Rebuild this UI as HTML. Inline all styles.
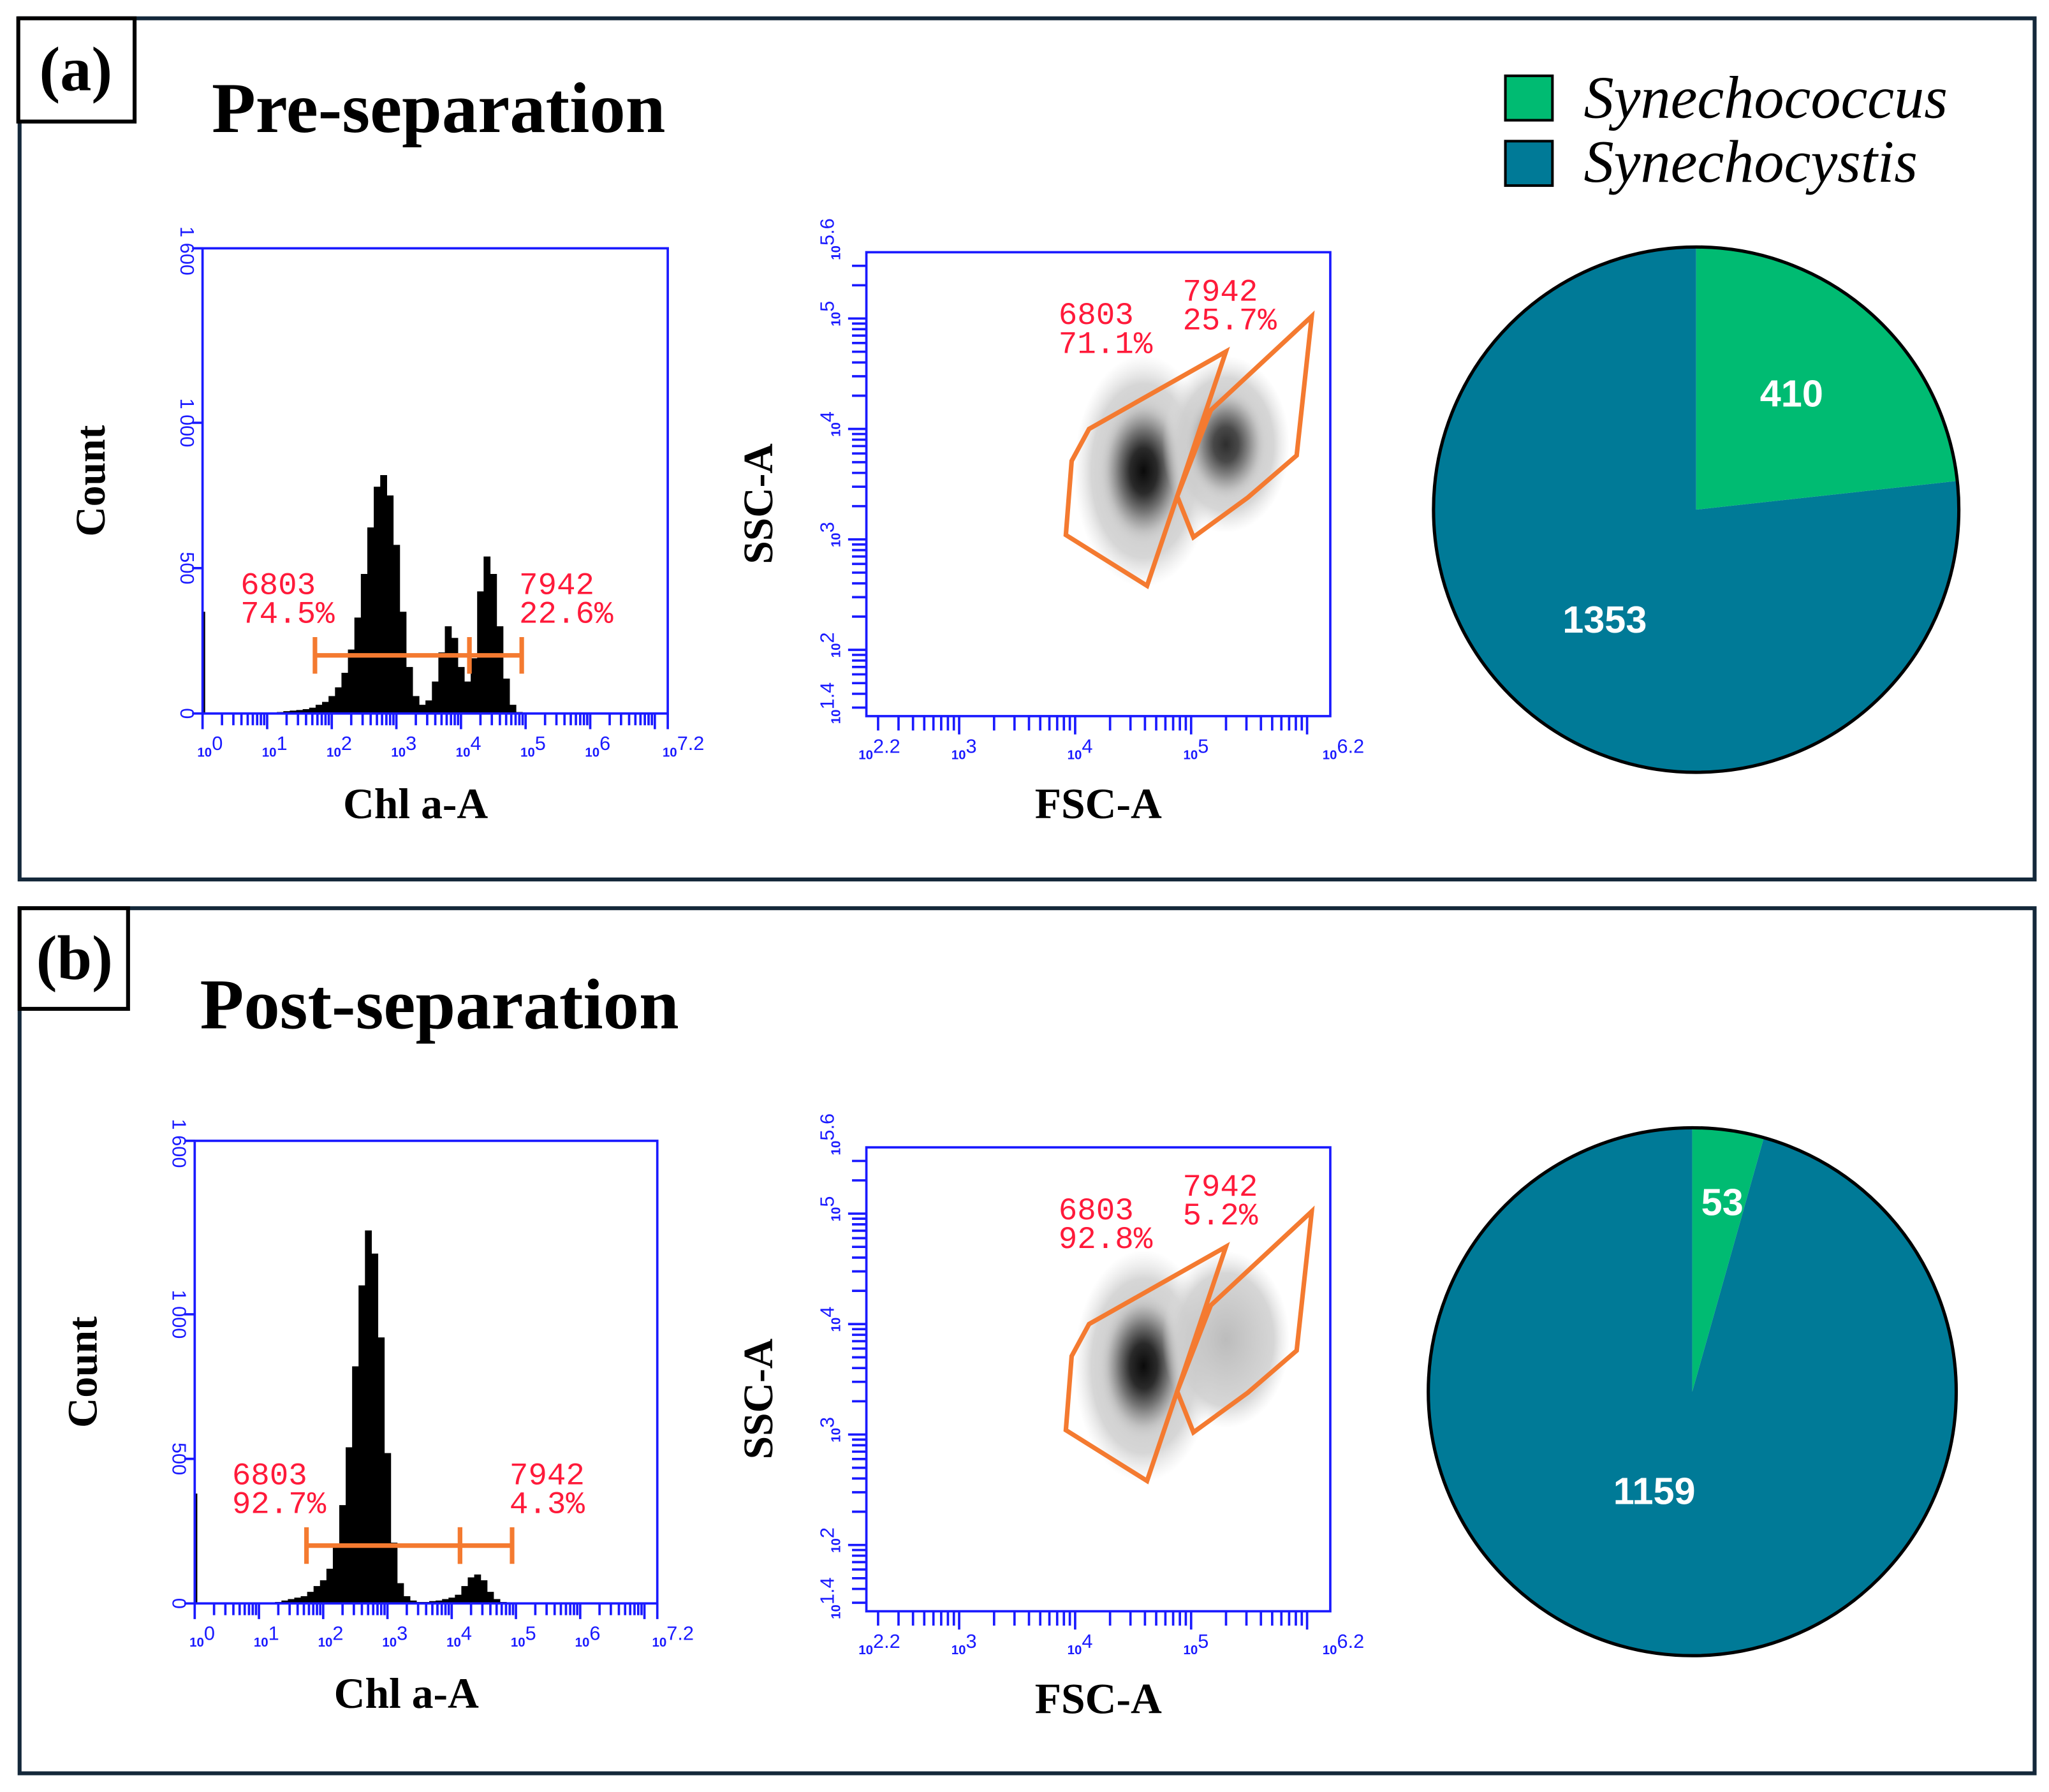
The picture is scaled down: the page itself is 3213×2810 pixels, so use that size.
<!DOCTYPE html>
<html><head><meta charset="utf-8"><style>
html,body{margin:0;padding:0;background:#fff;}
svg{display:block;}
</style></head><body>
<svg id="fig" xmlns="http://www.w3.org/2000/svg" width="3213" height="2810" viewBox="0 0 1568 1371.3">
<defs>
<radialGradient id="gDark"><stop offset="0" stop-color="#0a0a0a"/><stop offset="0.3" stop-color="#2a2a2a"/><stop offset="0.55" stop-color="#777"/><stop offset="0.8" stop-color="#bdbdbd" stop-opacity="0.8"/><stop offset="1" stop-color="#d8d8d8" stop-opacity="0"/></radialGradient>
<radialGradient id="gLight"><stop offset="0" stop-color="#bcbcbc"/><stop offset="0.75" stop-color="#cfcfcf" stop-opacity="0.85"/><stop offset="1" stop-color="#e0e0e0" stop-opacity="0"/></radialGradient>
</defs>
<rect x="15" y="14" width="1542" height="659" fill="none" stroke="#14283a" stroke-width="3"/>
<rect x="15" y="695" width="1542" height="662" fill="none" stroke="#14283a" stroke-width="3"/>
<rect x="14" y="14" width="89" height="79" fill="#fff" stroke="#000" stroke-width="3"/>
<text x="58" y="69" text-anchor="middle" font-family="Liberation Serif, serif" font-weight="bold" font-size="48">(a)</text>
<rect x="15" y="695" width="83" height="77" fill="#fff" stroke="#000" stroke-width="3"/>
<text x="57" y="749" text-anchor="middle" font-family="Liberation Serif, serif" font-weight="bold" font-size="48">(b)</text>
<text x="162" y="101" font-family="Liberation Serif, serif" font-weight="bold" font-size="55">Pre-separation</text>
<text x="153" y="787" font-family="Liberation Serif, serif" font-weight="bold" font-size="55">Post-separation</text>
<rect x="1152" y="58" width="36" height="34" fill="#00bb72" stroke="#000" stroke-width="2"/>
<rect x="1152" y="108" width="36" height="34" fill="#007a97" stroke="#000" stroke-width="2"/>
<text x="1212" y="90" font-family="Liberation Serif, serif" font-style="italic" font-size="46">Synechococcus</text>
<text x="1212" y="139" font-family="Liberation Serif, serif" font-style="italic" font-size="46">Synechocystis</text>
</svg>
<script>
// ---------- DATA ----------
const histBins = [1.2,1.3,1.4,1.5,1.6,1.7,1.8,1.9,2.0,2.1,2.2,2.3,2.4,2.5,2.6,2.7,2.8,2.9,3.0,3.1,3.2,3.3,3.4,3.5,3.6,3.7,3.8,3.9,4.0,4.1,4.2,4.3,4.4,4.5,4.6,4.7,4.8,4.9];
const preCounts = [5,8,10,12,15,20,30,40,60,90,140,220,330,480,640,780,820,750,580,350,160,60,30,45,110,210,300,260,160,110,190,420,540,480,300,120,30,5];
const postCounts = [3,5,10,15,20,25,40,60,80,120,200,340,540,820,1100,1290,1210,920,520,210,70,25,10,5,5,8,10,15,20,30,60,90,100,80,40,15,5,2];
const preSpike = 350;
const postSpike = 380;
const histXTicks = [0,1,2,3,4,5,6,7.2];
const histYTicks = [0,500,1000,1600];
const gateLabels = ["6803","7942"];
const preHistPct = ["74.5%","22.6%"];
const postHistPct = ["92.7%","4.3%"];
const gateRanges = [[1.74,4.13],[4.13,4.94]];
const gateLevel = 200;
const scatXTicks = [2.2,3,4,5,6.2];
const scatYTicks = [1.4,2,3,4,5,5.6];
const gate6803X = [4.12,5.30,4.62,3.92,3.97];
const gate6803Y = [4.00,4.70,2.58,3.04,3.71];
const gate7942X = [6.04,5.91,5.49,5.02,4.88,5.17];
const gate7942Y = [5.02,3.76,3.38,3.02,3.39,4.17];
const preScatPct = ["71.1%","25.7%"];
const postScatPct = ["92.8%","5.2%"];
const clusterX = [4.59,5.30];
const clusterY = [3.62,3.86];
const clusterSX = [0.6,0.55];
const clusterSY = [1.05,0.8];
const preIntensity = [1,0.8];
const postIntensity = [1,0];
const pieLabels = ["Synechococcus","Synechocystis"];
const prePie = [410,1353];
const postPie = [53,1159];

// ---------- HELPERS ----------
const NS="http://www.w3.org/2000/svg";
const svg=document.getElementById('fig');
function mk(tag,attrs,parent){const e=document.createElementNS(NS,tag);for(const k in attrs)e.setAttribute(k,attrs[k]);(parent||svg).appendChild(e);return e;}
const BLUE="#1a1aff", ORANGE="#f47a30", RED="#ff1a3a";
const LBL="Liberation Mono, monospace";

function histogram(px,py,w,h,counts,spike,pcts,name){
  const g=mk('g',{});
  
  
  const X=v=>px+v/7.2*w, Y=v=>py+h-v/1600*h;
  histBins.forEach((b,i)=>{
    const r=mk('rect',{x:X(b-0.05),y:Y(counts[i]),width:X(b+0.05)-X(b-0.05)+0.3,height:Y(0)-Y(counts[i]),fill:'#000'},g);
    
    
  });
  const sp=mk('rect',{x:X(0),y:Y(spike),width:2,height:Y(0)-Y(spike),fill:'#000'},g);
  
  
  const fr=mk('rect',{x:px,y:py,width:w,height:h,fill:'none',stroke:BLUE,'stroke-width':1.8},g);
  
  
  for(let d=0;d<8;d++){for(let k=1;k<10;k++){const lv=d+Math.log10(k);if(lv>7.2)break;
    const t=mk('line',{x1:X(lv),x2:X(lv),y1:py+h,y2:py+h+(k==1?12:9),stroke:BLUE,'stroke-width':1.8},g);
    
    }}
  const te=mk('line',{x1:X(7.2),x2:X(7.2),y1:py+h,y2:py+h+12,stroke:BLUE,'stroke-width':1.8},g);
  
  
  histXTicks.forEach(v=>{
    const t=mk('text',{x:X(v)-4,y:py+h+33,'font-family':'Liberation Sans, sans-serif','font-size':10,fill:BLUE,'font-weight':'bold'},g);
    
    
    t.innerHTML='10<tspan dy="-5" font-size="15" font-weight="normal">'+v+'</tspan>';
  });
  histYTicks.forEach(v=>{
    const l=mk('line',{x1:px-8,x2:px,y1:Y(v),y2:Y(v),stroke:BLUE,'stroke-width':1.8},g);
    
    
    const yy=v==1600?Y(v)+2:Y(v);
    const t=mk('text',{x:0,y:0,'font-family':'Liberation Sans, sans-serif','font-size':15,fill:BLUE,'text-anchor':'middle',transform:'translate('+(px-17)+','+yy+') rotate(90)'},g);
    
    
    t.textContent=v==0?'0':(v>=1000?String(v).replace(/(\d)(\d{3})$/,'$1 $2'):String(v));
  });
  gateRanges.forEach((r,i)=>{
    const yb=Y(gateLevel);
    const ln=mk('path',{d:`M${X(r[0])},${yb}H${X(r[1])}M${X(r[0])},${yb-14}V${yb+14}M${X(r[1])},${yb-14}V${yb+14}`,stroke:ORANGE,'stroke-width':3.5,fill:'none'},g);
    
    
    const lx=i==0?X(r[0])-57:X(r[1])-2;
    const t=mk('text',{x:lx,y:Y(gateLevel)-47,'font-family':LBL,'font-size':24,fill:RED},g);
    
    
    t.innerHTML=gateLabels[i]+'<tspan x="'+lx+'" dy="22">'+pcts[i]+'</tspan>';
  });
  const cl=mk('text',{x:0,y:0,'font-family':'Liberation Serif, serif','font-weight':'bold','font-size':32,'text-anchor':'middle',transform:'translate('+(px-75)+','+(py+h/2)+') rotate(-90)'},g);
  
  
  cl.textContent='Count';
  const xl=mk('text',{x:px+w/2-15,y:py+h+80,'font-family':'Liberation Serif, serif','font-weight':'bold','font-size':33,'text-anchor':'middle'},g);
  
  
  xl.textContent='Chl a-A';
}

function scatter(px,py,w,h,intens,pcts,name){
  const g=mk('g',{});
  
  
  const X=v=>px+(v-2.2)/4*w, Y=v=>py+h-(v-1.4)/4.2*h;
  clusterX.forEach((cx,i)=>{
    const halo=mk('ellipse',{cx:X(cx),cy:Y(clusterY[i]),rx:clusterSX[i]/4*w,ry:clusterSY[i]/4.2*h,fill:'url(#gLight)'},g);
    
    
    if(intens[i]>0){
      const c=mk('ellipse',{cx:X(cx),cy:Y(clusterY[i]),rx:clusterSX[i]*0.65/4*w,ry:clusterSY[i]*0.65/4.2*h,fill:'url(#gDark)',opacity:intens[i]},g);
      
      
    }
  });
  const fr=mk('rect',{x:px,y:py,width:w,height:h,fill:'none',stroke:BLUE,'stroke-width':1.8},g);
  
  
  for(let d=2;d<7;d++){for(let k=1;k<10;k++){const lv=d+Math.log10(k);if(lv<2.2||lv>6.2)continue;
    const t=mk('line',{x1:X(lv),x2:X(lv),y1:py+h,y2:py+h+(k==1?14:11),stroke:BLUE,'stroke-width':1.8},g);
    
    }}
  for(let d=1;d<6;d++){for(let k=1;k<10;k++){const lv=d+Math.log10(k);if(lv<1.4||lv>5.6)continue;
    const t=mk('line',{x1:px-(k==1?14:11),x2:px,y1:Y(lv),y2:Y(lv),stroke:BLUE,'stroke-width':1.8},g);
    
    }}
  scatXTicks.forEach(v=>{
    const t=mk('text',{x:X(v)-6,y:py+h+33,'font-family':'Liberation Sans, sans-serif','font-size':10,fill:BLUE,'font-weight':'bold'},g);
    
    
    t.innerHTML='10<tspan dy="-5" font-size="15" font-weight="normal">'+v+'</tspan>';
  });
  scatYTicks.forEach(v=>{
    const t=mk('text',{x:0,y:0,'font-family':'Liberation Sans, sans-serif','font-size':10,fill:BLUE,'font-weight':'bold',transform:'translate('+(px-20)+','+(Y(v)+6)+') rotate(-90)'},g);
    
    
    t.innerHTML='10<tspan dy="-5" font-size="15" font-weight="normal">'+v+'</tspan>';
  });
  const p1=mk('polygon',{points:gate6803X.map((x,i)=>X(x)+','+Y(gate6803Y[i])).join(' '),fill:'none',stroke:ORANGE,'stroke-width':3.5,'stroke-linejoin':'miter'},g);
  
  
  const p2=mk('polygon',{points:gate7942X.map((x,i)=>X(x)+','+Y(gate7942Y[i])).join(' '),fill:'none',stroke:ORANGE,'stroke-width':3.5},g);
  
  
  [[px+147,py+55],[px+242,py+37]].forEach((p,i)=>{
    const t=mk('text',{x:p[0],y:p[1],'font-family':LBL,'font-size':24,fill:RED},g);
    
    
    t.innerHTML=gateLabels[i]+'<tspan x="'+p[0]+'" dy="22">'+pcts[i]+'</tspan>';
  });
  const yl=mk('text',{x:0,y:0,'font-family':'Liberation Serif, serif','font-weight':'bold','font-size':32,'text-anchor':'middle',transform:'translate('+(px-72)+','+(py+h/2+15)+') rotate(-90)'},g);
  
  
  yl.textContent='SSC-A';
  const xl=mk('text',{x:px+w/2,y:py+h+78,'font-family':'Liberation Serif, serif','font-weight':'bold','font-size':33,'text-anchor':'middle'},g);
  
  
  xl.textContent='FSC-A';
}

function pie(cx,cy,r,vals,lpos,name){
  const g=mk('g',{});
  
  
  const tot=vals[0]+vals[1];
  const a=vals[0]/tot*2*Math.PI;
  const ex=cx+r*Math.sin(a), ey=cy-r*Math.cos(a);
  const big=a>Math.PI?1:0;
  const s2=mk('path',{d:`M${cx},${cy}L${ex},${ey}A${r},${r} 0 ${1-big} 1 ${cx},${cy-r}Z`,fill:'#007a97'},g);
  
  
  const s1=mk('path',{d:`M${cx},${cy}L${cx},${cy-r}A${r},${r} 0 ${big} 1 ${ex},${ey}Z`,fill:'#00bb72'},g);
  
  
  const c=mk('circle',{cx:cx,cy:cy,r:r,fill:'none',stroke:'#000','stroke-width':2.5},g);
  
  
  vals.forEach((v,i)=>{
    const t=mk('text',{x:lpos[i][0],y:lpos[i][1],'font-family':'Liberation Sans, sans-serif','font-weight':'bold','font-size':29,fill:'#fff','text-anchor':'middle'},g);
    
    
    t.textContent=v;
  });
}

histogram(155,190,356,356,preCounts,preSpike,preHistPct,'pre-histogram');
histogram(149,873,354,354,postCounts,postSpike,postHistPct,'post-histogram');
scatter(663,193,355,355,preIntensity,preScatPct,'pre-scatter');
scatter(663,878,355,355,postIntensity,postScatPct,'post-scatter');
pie(1298,390,201,prePie,[[1371,311],[1228,484]],'pre-pie');
pie(1295,1065,202,postPie,[[1318,930],[1266,1151]],'post-pie');
</script>
</body></html>
